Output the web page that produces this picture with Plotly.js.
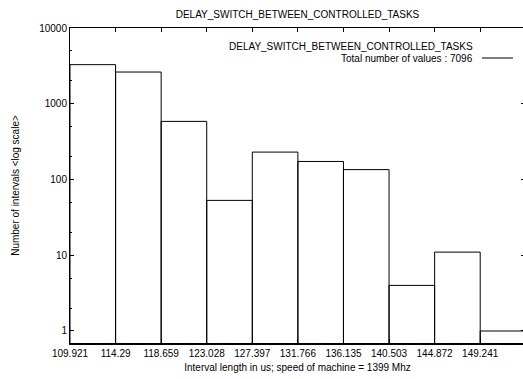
<!DOCTYPE html>
<html><head><meta charset="utf-8">
<script src="https://cdn.plot.ly/plotly-3.0.1.min.js"></script>
<style>html,body{margin:0;padding:0;overflow:hidden;background:#fff}</style></head>
<body><div id="chart" style="width:525px;height:379px"></div>
<script>
const binStarts = [109.921,114.29,118.659,123.028,127.397,131.766,136.135,140.503,144.872,149.241];
const tickLabels = ["109.921","114.29","118.659","123.028","127.397","131.766","136.135","140.503","144.872","149.241"];
const counts = [3282,2622,585,53,230,173,135,4,11,1];
const binWidth = 4.369;
const seriesName = "DELAY_SWITCH_BETWEEN_CONTROLLED_TASKS";
const total = counts.reduce((a,b)=>a+b,0);

const F = "Liberation Sans, Arial, sans-serif";
const trace = {
  type:'bar', x: binStarts, y: counts, width: binWidth, offset: 0,
  marker:{color:'rgba(255,255,255,0)', line:{color:'#000', width:1}},
  hoverinfo:'skip', showlegend:false
};
const W = 525, H = 379, L = 70, T = 28, B = 36;
const pw = W - L, ph = H - T - B;
const pxPerUnit = 10.432;
const layout = {
  width: W, height: H,
  margin:{l:L, r:0, t:T, b:B, pad:0},
  paper_bgcolor:'#fff', plot_bgcolor:'#fff',
  font:{family:F, size:10, color:'#000'},
  bargap:0,
  title:{text: seriesName, font:{family:F, size:10, color:'#000'}, x:0.5, xref:'paper', xanchor:'center', y:1-14/H, yanchor:'middle'},
  xaxis:{
    range:[binStarts[0], binStarts[0] + pw/pxPerUnit],
    tickvals: binStarts, ticktext: tickLabels,
    ticks:'inside', ticklen:4, tickcolor:'#000', tickwidth:1,
    showline:true, linecolor:'#000', linewidth:1.5, mirror:'ticks',
    showgrid:false, zeroline:false,
    tickfont:{family:F, size:10, color:'#000'},
    title:{text:'Interval length in us; speed of machine = 1399 Mhz', font:{family:F, size:10, color:'#000'}, standoff:6}
  },
  yaxis:{
    type:'log', range:[-0.1586, 4],
    tickvals:[1,10,100,1000,10000], ticktext:['1','10','100','1000','10000'],
    ticks:'inside', ticklen:4, tickcolor:'#000', tickwidth:1,
    minor:{dtick:'D2', ticks:'inside', ticklen:2, tickcolor:'#000', showgrid:false},
    showline:true, linecolor:'#000', linewidth:1, mirror:'ticks',
    showgrid:false, zeroline:false,
    tickfont:{family:F, size:10, color:'#000'},
    title:{text:'Number of intervals <log scale>', font:{family:F, size:10, color:'#000'}, standoff:17}
  },
  annotations:[
    {xref:'paper', yref:'paper', x:(475-L)/pw, y:(H-B-46)/ph, xanchor:'right', yanchor:'middle', showarrow:false, text: seriesName, font:{family:F,size:10,color:'#000'}},
    {xref:'paper', yref:'paper', x:(475-L)/pw, y:(H-B-58)/ph, xanchor:'right', yanchor:'middle', showarrow:false, text: 'Total number of values : ' + total, font:{family:F,size:10,color:'#000'}}
  ],
  shapes:[
    {type:'line', xref:'paper', yref:'paper', x0:(482-L)/pw, x1:(513-L)/pw, y0:(H-B-58)/ph, y1:(H-B-58)/ph, line:{color:'#000', width:1}}
  ]
};
Plotly.newPlot('chart', [trace], layout, {displayModeBar:false, staticPlot:true});
</script></body></html>
